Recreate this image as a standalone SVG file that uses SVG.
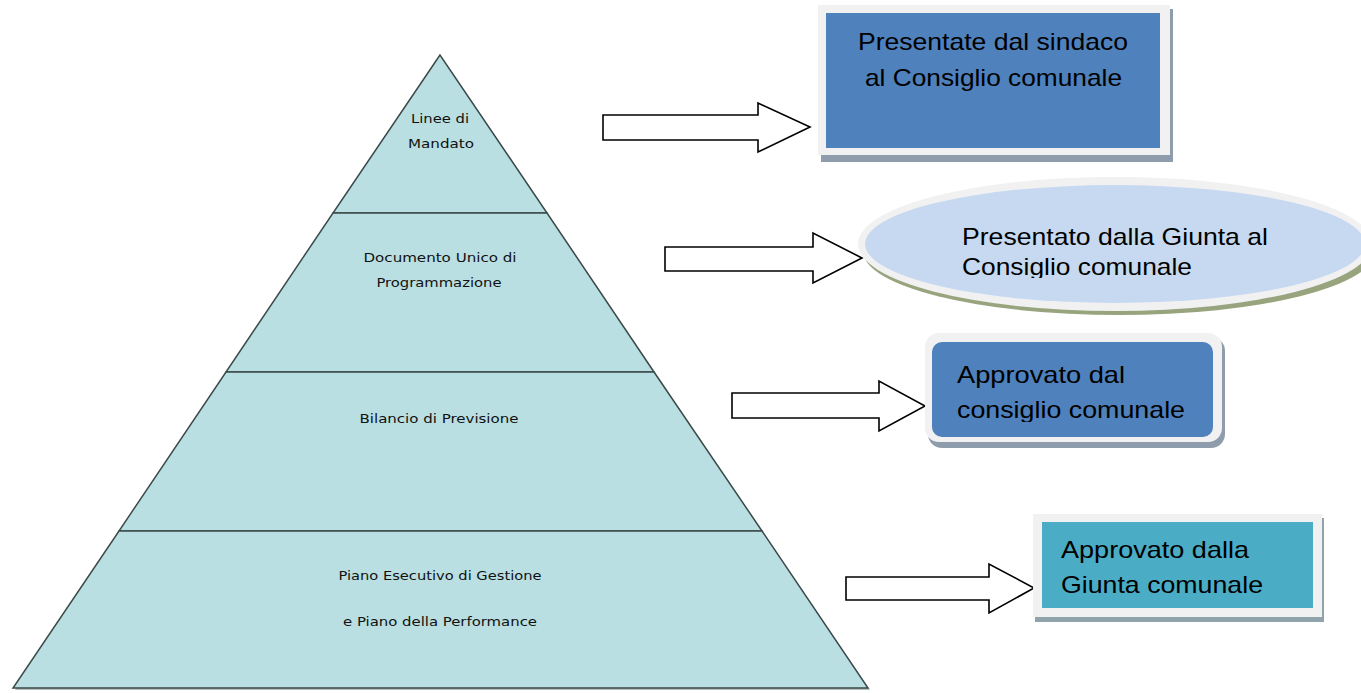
<svg xmlns="http://www.w3.org/2000/svg" width="1361" height="693" viewBox="0 0 1361 693">
<style>
.py{fill:#b9dfe2;stroke:#3c4a4a;stroke-width:1.5}
.pt{font-family:"Liberation Sans Narrow","DejaVu Sans Condensed","Liberation Sans",sans-serif;font-size:13px;fill:#111}
.bt{font-family:"Liberation Sans","Open Sans",sans-serif;font-size:24px;fill:#000}
.arr{fill:#fff;stroke:#000;stroke-width:1.6;stroke-linejoin:miter}
</style>
<defs>
<clipPath id="c2"><rect x="850" y="170" width="511" height="108"/></clipPath>
<clipPath id="c3"><rect x="930" y="340" width="290" height="82"/></clipPath>
</defs>
<rect width="1361" height="693" fill="#fff"/>
<g id="pyramid">
<polygon points="442,57 870,690 15,690" fill="#6f7f7f" opacity="0.5"/>
<polygon class="py" points="440,55 333,213 547,213"/>
<polygon class="py" points="333,213 547,213 654,372 226,372"/>
<polygon class="py" points="226,372 654,372 762,531 119,531"/>
<polygon class="py" points="119,531 762,531 868,688 13,688"/>
<text class="pt" x="440" y="123" text-anchor="middle" textLength="58" lengthAdjust="spacingAndGlyphs">Linee di</text>
<text class="pt" x="441" y="148" text-anchor="middle" textLength="66" lengthAdjust="spacingAndGlyphs">Mandato</text>
<text class="pt" x="440" y="262" text-anchor="middle" textLength="153" lengthAdjust="spacingAndGlyphs">Documento Unico di</text>
<text class="pt" x="439" y="287" text-anchor="middle" textLength="125" lengthAdjust="spacingAndGlyphs">Programmazione</text>
<text class="pt" x="439" y="423" text-anchor="middle" textLength="159" lengthAdjust="spacingAndGlyphs">Bilancio di Previsione</text>
<text class="pt" x="440" y="580" text-anchor="middle" textLength="203" lengthAdjust="spacingAndGlyphs">Piano Esecutivo di Gestione</text>
<text class="pt" x="440" y="626" text-anchor="middle" textLength="194" lengthAdjust="spacingAndGlyphs">e Piano della Performance</text>
</g>
<g id="connectors">
<polygon class="arr" points="603,115 758,115 758,103 810,127 758,152 758,140 603,140"/>
<polygon class="arr" points="665,247 813,247 813,233 862,258 813,283 813,271 665,271"/>
<polygon class="arr" points="732,393 879,393 879,381 925,406 879,431 879,418 732,418"/>
<polygon class="arr" points="846,577 989,577 989,564 1034,588 989,613 989,600 846,600"/>
</g>
<g id="box1">
<rect x="821" y="9" width="352" height="153" fill="#8f9cab"/>
<rect x="818" y="5" width="352" height="150" fill="#f1f1f1"/>
<rect x="826" y="13" width="334" height="135" fill="#4f81bd"/>
<text class="bt" x="858" y="50" textLength="270" lengthAdjust="spacingAndGlyphs">Presentate dal sindaco</text>
<text class="bt" x="865" y="86" textLength="257" lengthAdjust="spacingAndGlyphs">al Consiglio comunale</text>
</g>
<g id="ellipse2">
<ellipse cx="1119" cy="251" rx="256" ry="64" fill="#98a47e"/>
<ellipse cx="1115" cy="244" rx="257" ry="67" fill="#f1f1f1"/>
<ellipse cx="1115" cy="244" rx="250" ry="59" fill="#c6d9f1"/>
<g clip-path="url(#c2)">
<text class="bt" x="962" y="245" textLength="306" lengthAdjust="spacingAndGlyphs">Presentato dalla Giunta al</text>
<text class="bt" x="962" y="275" textLength="230" lengthAdjust="spacingAndGlyphs">Consiglio comunale</text>
</g>
</g>
<g id="box3">
<rect x="928" y="337" width="297" height="111" rx="14" fill="#8f9cab"/>
<rect x="925" y="333" width="297" height="109" rx="14" fill="#f1f1f1"/>
<rect x="932" y="342" width="281" height="95" rx="10" fill="#4f81bd"/>
<g clip-path="url(#c3)">
<text class="bt" x="957" y="383" textLength="168" lengthAdjust="spacingAndGlyphs">Approvato dal</text>
<text class="bt" x="957" y="418" textLength="228" lengthAdjust="spacingAndGlyphs">consiglio comunale</text>
</g>
</g>
<g id="box4">
<rect x="1035" y="518" width="289" height="104" fill="#8fa3aa"/>
<rect x="1033" y="514" width="289" height="103" fill="#f1f1f1"/>
<rect x="1042" y="522" width="271" height="86" fill="#4bacc6"/>
<text class="bt" x="1061" y="558" textLength="188" lengthAdjust="spacingAndGlyphs">Approvato dalla</text>
<text class="bt" x="1061" y="593" textLength="202" lengthAdjust="spacingAndGlyphs">Giunta comunale</text>
</g>
</svg>
